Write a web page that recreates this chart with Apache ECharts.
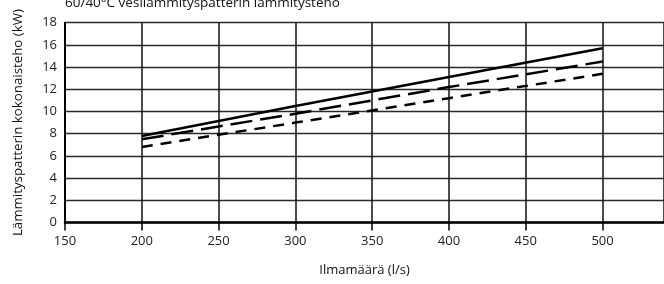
<!DOCTYPE html>
<html>
<head>
<meta charset="utf-8">
<script src="https://cdn.jsdelivr.net/npm/echarts@6/dist/echarts.min.js"></script>
<style>html,body{margin:0;padding:0;background:#fff}#c{width:664px;height:284px}</style>
</head>
<body>
<div id="c"></div>
<script>
const airflow = [200, 300, 400, 500];
const solidSeries = [7.8, 10.5, 13.1, 15.7];
const longDashSeries = [7.5, 9.8, 12.2, 14.5];
const shortDashSeries = [6.8, 9.0, 11.2, 13.4];
const yTicks = [0, 2, 4, 6, 8, 10, 12, 14, 16, 18];
const xTicks = [150, 200, 250, 300, 350, 400, 450, 500];
const titleText = '60/40°C vesilämmityspatterin lämmitysteho';
const xName = 'Ilmamäärä (l/s)';
const yName = 'Lämmityspatterin kokonaisteho (kW)';

const font = 'Open Sans';
const chart = echarts.init(document.getElementById('c'));
function pairs(vals){ return airflow.map((x,i)=>[x, vals[i]]); }
chart.setOption({
  animation: false,
  title: { text: titleText, left: 60, top: -9, textStyle: { fontFamily: font, fontSize: 13.5, fontWeight: 'normal', color: '#111' } },
  grid: { left: 65, right: 0, top: 22.7, bottom: 61.5, containLabel: false },
  xAxis: {
    type: 'value', min: 150, max: 540, interval: 50,
    name: xName, nameLocation: 'middle', nameGap: 41,
    nameTextStyle: { fontFamily: font, fontSize: 13, color: '#111' },
    axisLine: { show: true, lineStyle: { color: '#000', width: 2.5 } },
    axisTick: { show: true, length: 8, lineStyle: { color: '#000', width: 1.5 } },
    axisLabel: { fontFamily: font, fontSize: 13, color: '#222', margin: 12, showMaxLabel: false,
      formatter: v => xTicks.includes(v) ? String(v) : '' },
    splitLine: { show: true, lineStyle: { color: '#111', width: 1.5 } }
  },
  yAxis: {
    type: 'value', min: 0, max: 18, interval: 2,
    name: yName, nameLocation: 'middle', nameGap: 40, nameRotate: 90,
    nameTextStyle: { fontFamily: font, fontSize: 13.3, color: '#111' },
    axisLine: { show: true, lineStyle: { color: '#000', width: 2 } },
    axisTick: { show: false },
    axisLabel: { fontFamily: font, fontSize: 13, color: '#222', margin: 8,
      formatter: v => yTicks.includes(v) ? String(v) : '' },
    splitLine: { show: true, lineStyle: { color: '#2a2a2a', width: 1.3 } }
  },
  series: [
    { type: 'line', data: pairs(solidSeries), showSymbol: false, lineStyle: { color: '#000', width: 2.5, type: 'solid' } },
    { type: 'line', data: pairs(longDashSeries), showSymbol: false, lineStyle: { color: '#000', width: 2.5, type: [22, 8] } },
    { type: 'line', data: pairs(shortDashSeries), showSymbol: false, lineStyle: { color: '#000', width: 2.5, type: [11, 8] } }
  ]
});
</script>
</body>
</html>
